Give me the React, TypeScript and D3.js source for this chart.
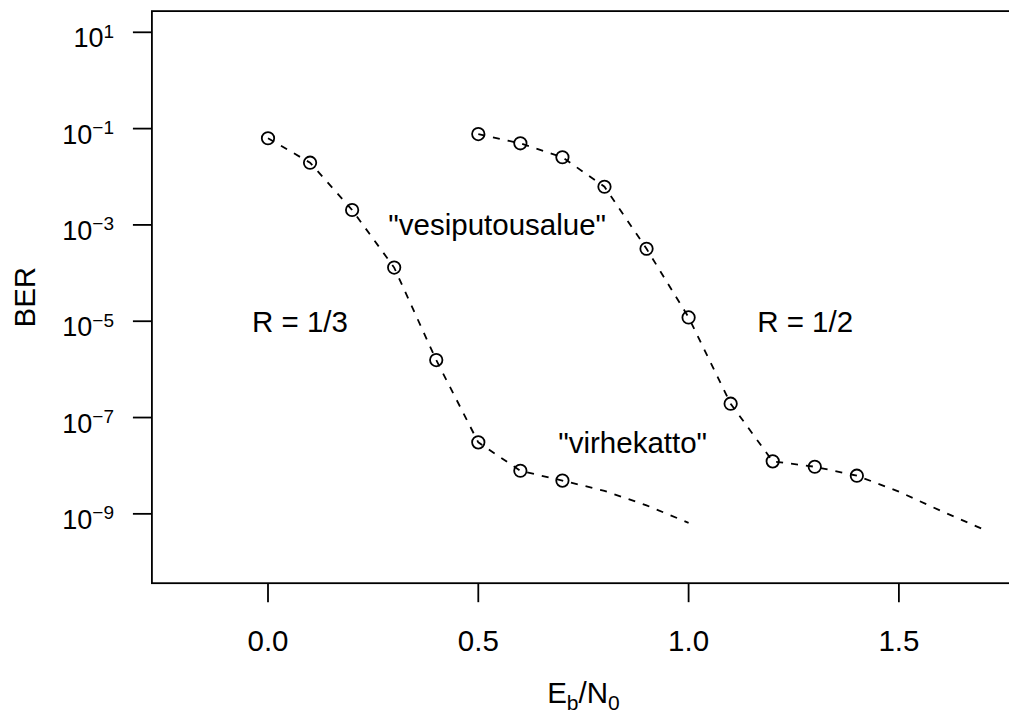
import React from "react";
import * as d3 from "d3";

const W = 1009;
const H = 721;

// R = 1/3 curve (measured points; last three are line-only continuation)
const ebn0Third = [0.0, 0.1, 0.2, 0.3, 0.4, 0.5, 0.6, 0.7, 0.8, 0.9, 1.0];
const berThird = [0.063, 0.0196, 0.00204, 1.3e-4, 1.56e-6, 3.05e-8, 7.85e-9, 4.9e-9, 3.0e-9, 1.5e-9, 6.5e-10];
const markedThird = 8;

// R = 1/2 curve
const ebn0Half = [0.5, 0.6, 0.7, 0.8, 0.9, 1.0, 1.1, 1.2, 1.3, 1.4, 1.5, 1.6, 1.7];
const berHalf = [0.077, 0.0495, 0.0254, 0.0062, 3.2e-4, 1.2e-5, 1.94e-7, 1.23e-8, 9.5e-9, 6.2e-9, 2.9e-9, 1.15e-9, 4.8e-10];
const markedHalf = 10;

const xTicks = [0.0, 0.5, 1.0, 1.5];
const yTickExps = [1, -1, -3, -5, -7, -9];

const annotations = [
  { text: "R = 1/3", x: 0.076, y: 1e-5 },
  { text: "R = 1/2", x: 1.277, y: 1e-5 },
  { text: "\"vesiputousalue\"", x: 0.545, y: 1e-3 },
  { text: "\"virhekatto\"", x: 0.867, y: 3e-8 },
];

const xLim = [-0.2, 1.7];
const yLim = [1e-10, 10];

export default function App() {
  const x0 = 268;
  const pxPerUnit = 420.6;
  const xExt = (xLim[1] - xLim[0]) * 0.04;
  const x = d3
    .scaleLinear()
    .domain([0, 1])
    .range([x0, x0 + pxPerUnit]);
  const y = d3.scaleLog().domain(yLim).range([562, 32.3]);
  const logSpan = Math.log10(yLim[1]) - Math.log10(yLim[0]);
  const yExt = logSpan * 0.04;
  const boxLeft = x(xLim[0] - xExt);
  const boxRight = x(xLim[1] + xExt);
  const boxTop = y(Math.pow(10, Math.log10(yLim[1]) + yExt));
  const boxBottom = y(Math.pow(10, Math.log10(yLim[0]) - yExt));

  const line = d3
    .line<[number, number]>()
    .x((d) => x(d[0]))
    .y((d) => y(d[1]));

  const third: [number, number][] = ebn0Third.map((v, i) => [v, berThird[i]]);
  const half: [number, number][] = ebn0Half.map((v, i) => [v, berHalf[i]]);

  const font = "Liberation Sans, Arial, Helvetica, sans-serif";
  const sw = 1.8;

  return (
    <svg
      width={W}
      height={H}
      style={{ position: "absolute", left: 0, top: 0, background: "#fff" }}
      fontFamily={font}
    >
      <rect x={0} y={0} width={W} height={H} fill="#fff" />
      {[third, half].map((data, k) => (
        <path
          key={k}
          d={line(data) || ""}
          fill="none"
          stroke="#000"
          strokeWidth={sw}
          strokeDasharray="7,8"
        />
      ))}
      {third.slice(0, markedThird).map((d, i) => (
        <circle key={"t" + i} cx={x(d[0])} cy={y(d[1])} r={6.2} fill="none" stroke="#000" strokeWidth={sw} />
      ))}
      {half.slice(0, markedHalf).map((d, i) => (
        <circle key={"h" + i} cx={x(d[0])} cy={y(d[1])} r={6.2} fill="none" stroke="#000" strokeWidth={sw} />
      ))}
      {annotations.map((a, i) => (
        <text
          key={i}
          x={x(a.x)}
          y={y(a.y)}
          dy={10.4}
          textAnchor="middle"
          fontSize={29.5}
          fill="#000"
        >
          {a.text}
        </text>
      ))}
      <rect
        x={boxLeft}
        y={boxTop}
        width={boxRight - boxLeft}
        height={boxBottom - boxTop}
        fill="none"
        stroke="#000"
        strokeWidth={sw}
      />
      {xTicks.map((t) => (
        <g key={t}>
          <line x1={x(t)} x2={x(t)} y1={boxBottom} y2={boxBottom + 19} stroke="#000" strokeWidth={sw} />
          <text x={x(t)} y={651} textAnchor="middle" fontSize={29.5} fill="#000">
            {d3.format(".1f")(t)}
          </text>
        </g>
      ))}
      {yTickExps.map((e) => {
        const ty = y(Math.pow(10, e));
        return (
          <g key={e}>
            <line x1={boxLeft - 19} x2={boxLeft} y1={ty} y2={ty} stroke="#000" strokeWidth={sw} />
            <text x={114} y={ty + 15} textAnchor="end" fontSize={27} fill="#000">
              10
              <tspan dy={-9.5} fontSize={19}>
                {e < 0 ? "\u2212" + Math.abs(e) : String(e)}
              </tspan>
            </text>
          </g>
        );
      })}
      <text
        transform={`translate(35, ${(boxTop + boxBottom) / 2}) rotate(-90)`}
        textAnchor="middle"
        fontSize={29.5}
        fill="#000"
      >
        BER
      </text>
      <text x={(boxLeft + boxRight) / 2} y={703} textAnchor="middle" fontSize={29.5} fill="#000">
        E
        <tspan dy={7} fontSize={21}>b</tspan>
        <tspan dy={-7}>/N</tspan>
        <tspan dy={7} fontSize={21}>0</tspan>
      </text>
    </svg>
  );
}
